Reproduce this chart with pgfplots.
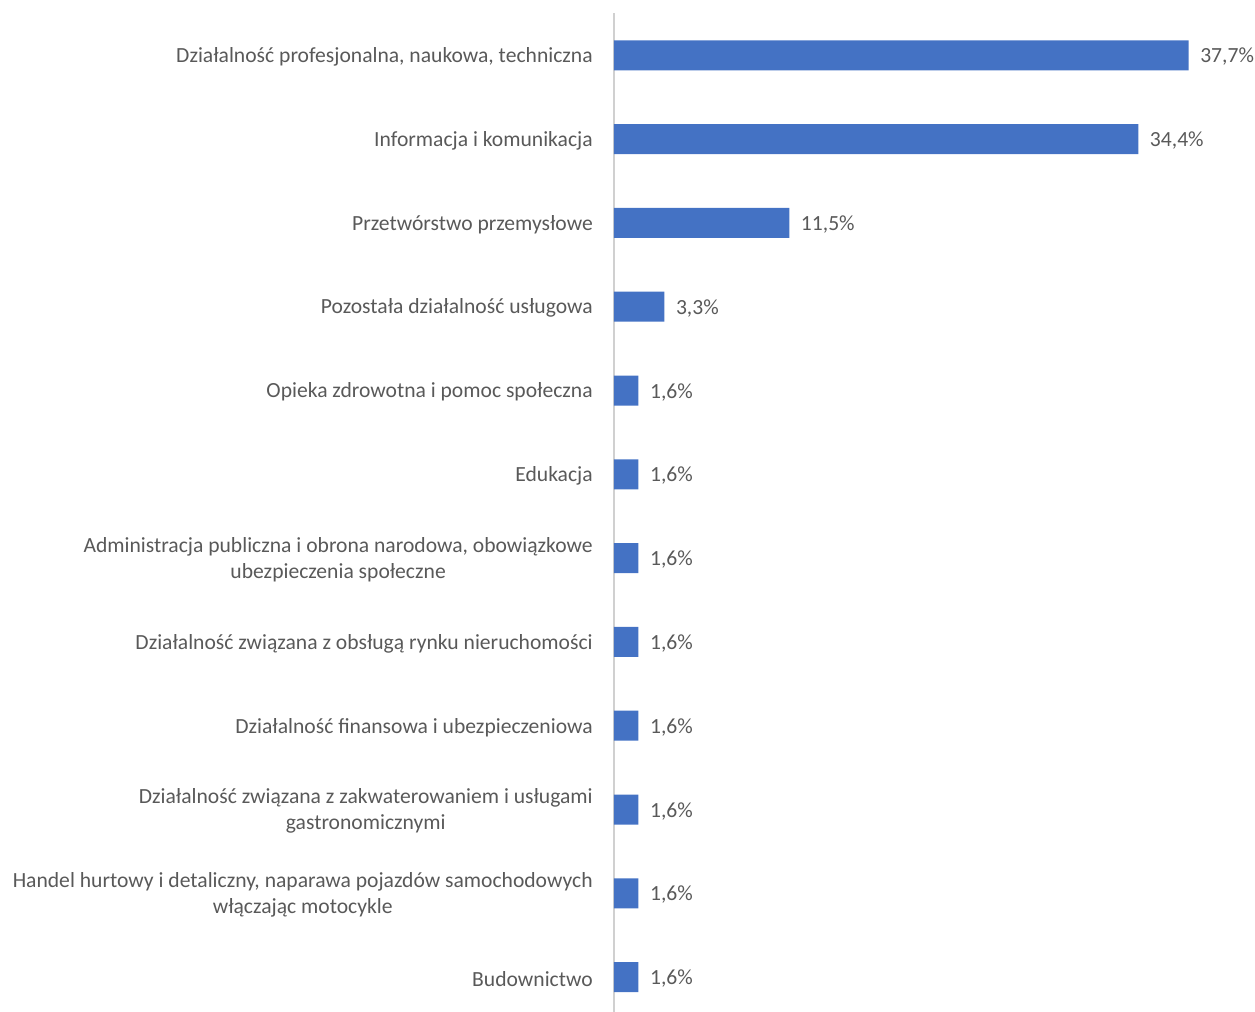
\documentclass[border=0pt]{standalone}
\usepackage{fontspec}
\setmainfont{Carlito}
\usepackage{pgfplots}
\pgfplotsset{compat=1.18}
\definecolor{barblue}{HTML}{4472C4}
\definecolor{txtgray}{HTML}{595959}
\definecolor{axgray}{HTML}{D0D0D0}
\begin{document}
\begin{tikzpicture}
\begin{axis}[
  scale only axis,
  width=457.2pt, height=754.2pt,
  xbar, bar width=22.5pt,
  xmin=0, xmax=40,
  ymin=-0.5, ymax=11.5,
  y dir=reverse,
  enlargelimits=false,
  axis x line=none,
  axis y line*=left,
  y axis line style={draw=axgray, line width=1.2pt},
  ytick={0,...,11},
  major tick length=0pt,
  yticklabels={
    {Działalność profesjonalna, naukowa, techniczna},
    {Informacja i komunikacja},
    {Przetwórstwo przemysłowe},
    {Pozostała działalność usługowa},
    {Opieka zdrowotna i pomoc społeczna},
    {Edukacja},
    {Administracja publiczna i obrona narodowa, obowiązkowe\\ubezpieczenia społeczne},
    {Działalność związana z obsługą rynku nieruchomości},
    {Działalność finansowa i ubezpieczeniowa},
    {Działalność związana z zakwaterowaniem i usługami\\gastronomicznymi},
    {Handel hurtowy i detaliczny, naparawa pojazdów samochodowych\\włączając motocykle},
    {Budownictwo}},
  yticklabel style={anchor=east, inner sep=0pt, xshift=-15.75pt, yshift=-1.2pt, align=center,
    font=\fontsize{16.2pt}{19.5pt}\selectfont, text=txtgray},
  point meta=x,
  nodes near coords={\pgfmathprintnumber{\pgfplotspointmeta}\%},
  nodes near coords style={font=\fontsize{16.2pt}{19.5pt}\selectfont, text=txtgray, anchor=west, inner sep=0pt, xshift=8.6pt, yshift=-1.2pt},
  /pgf/number format/.cd, use comma, fixed, fixed zerofill, precision=1, assume math mode=true,
]
\addplot[fill=barblue, draw=none] coordinates {
  (37.7,0) (34.4,1) (11.5,2) (3.3,3) (1.6,4) (1.6,5)
  (1.6,6) (1.6,7) (1.6,8) (1.6,9) (1.6,10) (1.6,11)
};
\end{axis}
\pgfresetboundingbox
\path[use as bounding box] (-460.5pt,5.25pt) rectangle (480.75pt,764.25pt);
\end{tikzpicture}
\end{document}
